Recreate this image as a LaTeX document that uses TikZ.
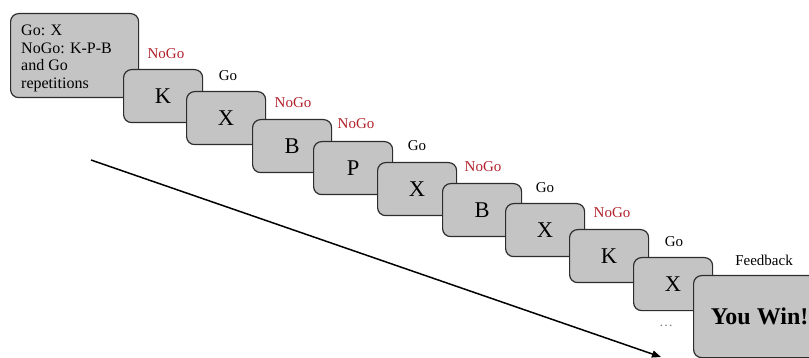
\documentclass[tikz,border=0pt]{standalone}
\usepackage{fontspec}
\setmainfont{Liberation Serif}
\usetikzlibrary{arrows.meta}
\definecolor{cardfill}{RGB}{196,196,196}
\definecolor{cardline}{RGB}{45,45,45}
\definecolor{nogored}{RGB}{178,34,44}
\begin{document}
\begin{tikzpicture}[x=1pt,y=-1pt,
  card/.style={draw=cardline, fill=cardfill, line width=1.2pt, rounded corners=8pt,
    anchor=north west, inner sep=0pt, minimum width=79pt, minimum height=53pt,
    font=\fontsize{22.5}{26}\selectfont},
  golab/.style={font=\fontsize{15}{17}\selectfont, inner sep=0pt},
  nogolab/.style={golab, text=nogored}]
\useasboundingbox (0,0) rectangle (809,358);
\begin{scope}
\clip (0,0) rectangle (809,358);
% instruction box
\node[card, minimum width=128pt, minimum height=84pt] (c0) at (10,13) {};
\node[anchor=north west, align=left, inner sep=0pt, font=\fontsize{16}{17.6}\selectfont]
  (c0t) at (21,25) {Go: X\\NoGo: K-P-B\\and Go\\repetitions};
% stimulus cards
\node[card] (c1) at (123,69) {K};
\node[card] (c2) at (186,91) {X};
\node[card] (c3) at (252,119) {B};
\node[card] (c4) at (313,141) {P};
\node[card] (c5) at (377,162) {X};
\node[card] (c6) at (442,183) {B};
\node[card] (c7) at (505,203) {X};
\node[card] (c8) at (569,229) {K};
\node[card] (c9) at (633,257) {X};
\node[card, minimum width=132pt, minimum height=82pt, font=\fontsize{24}{28}\selectfont\bfseries] (c10) at (693,275) {You Win!};
% labels
\node[nogolab] (l1) at (166,54) {NoGo};
\node[golab] (l2) at (228,76) {Go};
\node[nogolab] (l3) at (293,103) {NoGo};
\node[nogolab] (l4) at (356,124) {NoGo};
\node[golab] (l5) at (417,146) {Go};
\node[nogolab] (l6) at (483,167) {NoGo};
\node[golab] (l7) at (545,188) {Go};
\node[nogolab] (l8) at (612,213) {NoGo};
\node[golab] (l9) at (674,242) {Go};
\node[golab] (l10) at (764,260) {Feedback};
\node[golab, text=gray, font=\fontsize{14}{16}\selectfont] (dots) at (666,326) {…};
% time arrow
\coordinate (t0) at (91,160);
\coordinate (t1) at (661,357);
\draw[line width=1.5pt, -{Triangle[length=9pt,width=7pt]}] (t0) -- (t1);
\end{scope}
\end{tikzpicture}
\end{document}
